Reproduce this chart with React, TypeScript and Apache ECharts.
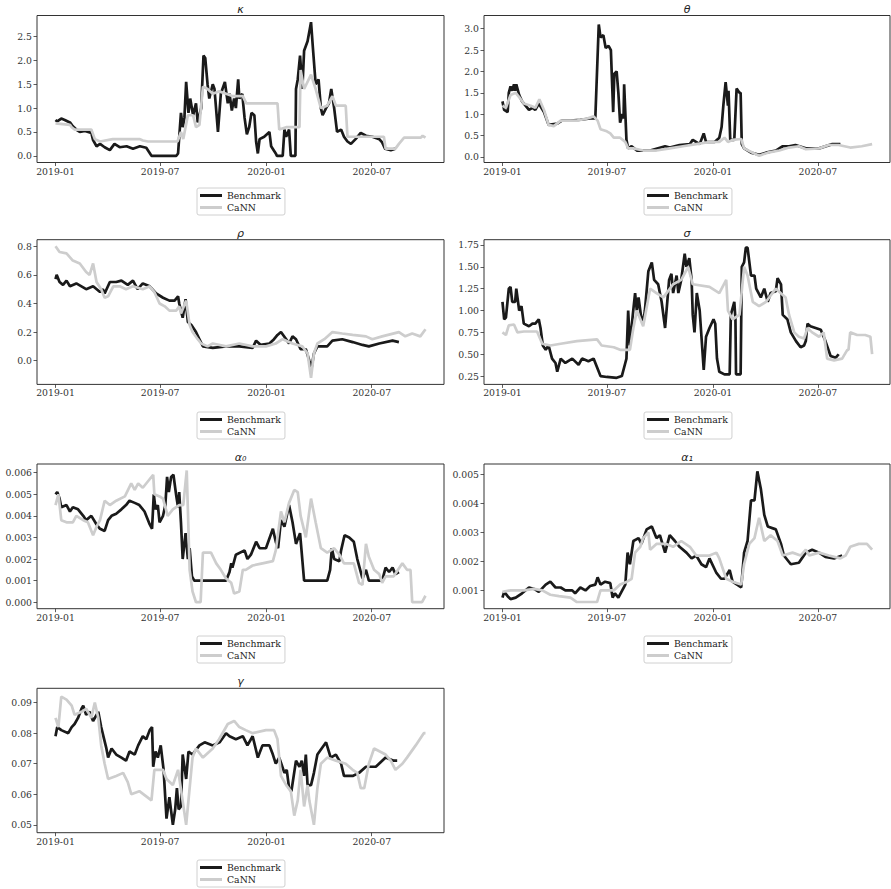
import React, { useEffect, useRef } from 'react';
import * as echarts from 'echarts';

// x values are days since 2019-01-01
const xTickDays = [0, 181, 365, 547];
const xTickLabels = ['2019-01', '2019-07', '2020-01', '2020-07'];

const kappaTicks = [0, 0.5, 1, 1.5, 2, 2.5];
const thetaTicks = [0, 0.5, 1, 1.5, 2, 2.5, 3];
const rhoTicks = [0, 0.2, 0.4, 0.6, 0.8];
const sigmaTicks = [0.25, 0.5, 0.75, 1, 1.25, 1.5, 1.75];
const alpha0Ticks = [0, 0.001, 0.002, 0.003, 0.004, 0.005, 0.006];
const alpha1Ticks = [0.001, 0.002, 0.003, 0.004, 0.005];
const gammaTicks = [0.05, 0.06, 0.07, 0.08, 0.09];

const seriesNames = ['Benchmark', 'CaNN'];

const kappaBenchmark = [
  [0, 0.75], [3, 0.72], [10, 0.78], [16, 0.75], [25, 0.7], [30, 0.62], [36, 0.55], [42, 0.5], [51, 0.52], [62, 0.48],
  [65, 0.33], [71, 0.2], [77, 0.25], [85, 0.18], [94, 0.12], [102, 0.25], [111, 0.18], [123, 0.2], [134, 0.15], [146, 0.2],
  [157, 0.17], [166, 0], [209, 0], [212, 0.05], [217, 0.9], [220, 0.6], [223, 0.8], [226, 1.55], [230, 0.9], [233, 1.2],
  [238, 0.85], [243, 1.1], [246, 0.7], [252, 1.0], [256, 2.1], [259, 2.05], [263, 1.5], [266, 1.2], [272, 1.5], [275, 1.4],
  [281, 0.5], [286, 1.3], [293, 1.55], [298, 1.1], [301, 1.3], [305, 0.95], [309, 1.2], [312, 1.0], [316, 1.6], [318, 1.2],
  [323, 1.3], [327, 0.8], [331, 0.45], [335, 0.6], [339, 0.9], [344, 0.85], [347, 0.3], [350, 0.05], [353, 0.35], [361, 0.4],
  [370, 0.5], [373, 0.2], [381, 0.05], [383, 0], [393, 0], [396, 0.55], [399, 0.4], [404, 0.55], [407, 0], [415, 0],
  [416, 1.4], [419, 1.6], [423, 2.1], [427, 1.4], [430, 2.2], [436, 2.4], [442, 2.8], [445, 2.3], [450, 1.5], [455, 1.6],
  [459, 1.0], [462, 0.85], [468, 1.0], [473, 1.1], [477, 1.4], [482, 1.0], [487, 0.5], [494, 0.55], [499, 0.4], [505, 0.3],
  [511, 0.25], [519, 0.35], [528, 0.48], [537, 0.42], [548, 0.4], [560, 0.35], [565, 0.28], [570, 0.15], [580, 0.12], [588, 0.15],
];
const kappaCaNN = [
  [0, 0.68], [25, 0.65], [28, 0.6], [33, 0.55], [62, 0.55], [68, 0.35], [77, 0.3], [99, 0.35], [146, 0.35], [151, 0.32],
  [160, 0.3], [211, 0.3], [217, 0.5], [221, 0.35], [229, 0.85], [238, 0.85], [243, 0.6], [249, 0.65], [255, 1.45], [263, 1.4],
  [272, 1.3], [283, 1.35], [295, 1.3], [307, 1.25], [324, 1.25], [330, 1.1], [384, 1.1], [387, 0.55], [399, 0.6], [422, 0.6],
  [424, 1.8], [430, 1.4], [442, 1.7], [450, 1.4], [459, 1.0], [470, 1.05], [479, 1.25], [485, 1.05], [502, 1.05], [505, 0.4],
  [568, 0.4], [571, 0.15], [588, 0.15], [594, 0.25], [603, 0.38], [632, 0.38], [635, 0.42], [640, 0.38],
];

const thetaBenchmark = [
  [0, 1.3], [3, 1.1], [9, 1.05], [11, 1.5], [14, 1.65], [17, 1.55], [20, 1.7], [22, 1.55], [24, 1.7], [29, 1.45],
  [34, 1.3], [40, 1.2], [46, 1.1], [52, 1.15], [57, 1.1], [63, 1.25], [72, 1.05], [80, 0.75], [95, 0.78], [103, 0.85],
  [118, 0.85], [135, 0.87], [152, 0.9], [161, 0.9], [167, 3.1], [170, 2.8], [175, 2.85], [179, 2.55], [184, 2.6], [188, 2.5],
  [192, 1.05], [194, 1.95], [198, 2.0], [201, 1.5], [204, 0.8], [208, 1.0], [210, 0.9], [211, 1.7], [215, 0.4], [218, 0.2],
  [224, 0.25], [233, 0.15], [256, 0.15], [282, 0.25], [290, 0.22], [307, 0.28], [325, 0.3], [330, 0.4], [342, 0.3], [349, 0.55],
  [353, 0.35], [368, 0.35], [376, 0.45], [380, 0.7], [383, 1.2], [387, 1.75], [391, 1.2], [392, 1.55], [395, 0.4], [402, 0.4],
  [406, 1.6], [411, 1.5], [413, 1.5], [415, 0.3], [419, 0.2], [431, 0.1], [445, 0.05], [457, 0.1], [474, 0.15], [486, 0.25],
  [497, 0.25], [508, 0.28], [526, 0.2], [549, 0.2], [572, 0.3], [586, 0.3],
];
const thetaCaNN = [
  [0, 1.2], [6, 1.15], [14, 1.45], [23, 1.5], [29, 1.4], [37, 1.25], [49, 1.2], [57, 1.15], [64, 1.35], [72, 1.1],
  [80, 0.75], [89, 0.72], [101, 0.85], [129, 0.85], [147, 0.9], [158, 0.95], [165, 0.85], [170, 0.65], [181, 0.6], [187, 0.55],
  [193, 0.45], [204, 0.45], [213, 0.35], [218, 0.2], [227, 0.2], [244, 0.15], [267, 0.15], [290, 0.2], [313, 0.25], [336, 0.3],
  [359, 0.35], [376, 0.35], [385, 0.45], [391, 0.35], [399, 0.4], [414, 0.42], [419, 0.2], [434, 0.1], [445, 0.03], [460, 0.1],
  [480, 0.15], [497, 0.22], [514, 0.25], [526, 0.18], [549, 0.2], [566, 0.28], [583, 0.28], [603, 0.22], [623, 0.25], [641, 0.3],
];

const rhoBenchmark = [
  [0, 0.57], [2, 0.6], [7, 0.55], [13, 0.53], [19, 0.56], [25, 0.52], [36, 0.54], [53, 0.5], [65, 0.52], [77, 0.48],
  [82, 0.5], [85, 0.47], [94, 0.55], [105, 0.55], [114, 0.56], [125, 0.53], [134, 0.56], [142, 0.5], [151, 0.54], [163, 0.52],
  [174, 0.47], [186, 0.44], [197, 0.42], [206, 0.42], [212, 0.45], [214, 0.4], [217, 0.35], [220, 0.3], [225, 0.43], [229, 0.27],
  [235, 0.25], [243, 0.2], [249, 0.15], [255, 0.1], [272, 0.09], [295, 0.1], [318, 0.1], [341, 0.09], [347, 0.14], [355, 0.11],
  [370, 0.12], [378, 0.15], [384, 0.18], [390, 0.2], [399, 0.15], [404, 0.12], [410, 0.17], [416, 0.15], [424, 0.08], [433, 0.08],
  [439, 0.0], [443, -0.05], [447, 0.05], [453, 0.1], [462, 0.1], [470, 0.1], [479, 0.14], [496, 0.15], [514, 0.13], [531, 0.11],
  [542, 0.1], [560, 0.12], [583, 0.14], [594, 0.13],
];
const rhoCaNN = [
  [0, 0.8], [7, 0.76], [19, 0.75], [30, 0.7], [42, 0.68], [53, 0.62], [59, 0.6], [65, 0.68], [71, 0.55], [79, 0.5],
  [85, 0.44], [91, 0.45], [100, 0.52], [111, 0.52], [122, 0.5], [134, 0.52], [151, 0.5], [163, 0.52], [171, 0.48], [180, 0.4],
  [189, 0.38], [197, 0.35], [209, 0.35], [214, 0.38], [217, 0.33], [226, 0.42], [232, 0.25], [237, 0.2], [246, 0.15], [252, 0.12],
  [263, 0.1], [272, 0.12], [295, 0.1], [318, 0.12], [341, 0.1], [364, 0.1], [381, 0.12], [393, 0.15], [410, 0.12], [427, 0.1],
  [436, 0.05], [442, -0.12], [447, 0.05], [453, 0.12], [465, 0.15], [479, 0.2], [496, 0.19], [514, 0.18], [537, 0.17], [548, 0.15],
  [565, 0.17], [594, 0.2], [605, 0.17], [617, 0.19], [631, 0.17], [640, 0.22],
];

const sigmaBenchmark = [
  [0, 1.1], [3, 0.9], [6, 0.92], [11, 1.25], [14, 1.27], [17, 1.1], [22, 1.1], [24, 1.25], [29, 1.0], [33, 1.05],
  [37, 0.85], [46, 0.82], [52, 0.85], [57, 0.85], [63, 0.9], [66, 0.8], [70, 0.6], [75, 0.55], [80, 0.6], [86, 0.45],
  [92, 0.4], [95, 0.3], [101, 0.45], [109, 0.4], [121, 0.45], [132, 0.38], [138, 0.45], [149, 0.42], [158, 0.45], [164, 0.35],
  [170, 0.25], [181, 0.24], [198, 0.23], [207, 0.25], [213, 0.4], [215, 0.45], [218, 1.0], [221, 0.6], [226, 0.95], [230, 1.2],
  [233, 1.0], [236, 1.15], [240, 0.95], [244, 0.85], [247, 1.0], [253, 1.45], [259, 1.55], [263, 1.35], [270, 1.3], [276, 1.1],
  [282, 0.8], [289, 1.35], [293, 1.42], [296, 1.2], [302, 1.4], [305, 1.2], [310, 1.35], [316, 1.65], [319, 1.5], [324, 1.6],
  [328, 1.35], [330, 0.95], [333, 0.75], [337, 1.2], [342, 1.0], [349, 0.32], [353, 0.7], [359, 0.8], [366, 0.9], [369, 0.85],
  [372, 0.45], [376, 0.3], [385, 0.27], [394, 0.27], [396, 0.95], [402, 1.1], [404, 0.9], [405, 0.27], [413, 0.27], [415, 1.5],
  [419, 1.55], [422, 1.72], [425, 1.72], [431, 1.4], [437, 1.4], [440, 1.25], [448, 1.15], [454, 1.25], [460, 1.1], [465, 1.2],
  [474, 1.22], [477, 1.37], [483, 1.3], [486, 0.95], [494, 0.9], [500, 0.75], [509, 0.65], [517, 0.58], [523, 0.6], [526, 0.65],
  [529, 0.85], [534, 0.82], [543, 0.8], [552, 0.78], [557, 0.7], [560, 0.65], [569, 0.48], [578, 0.46], [583, 0.5],
];
const sigmaCaNN = [
  [0, 0.75], [6, 0.72], [11, 0.83], [20, 0.84], [26, 0.75], [37, 0.76], [60, 0.76], [69, 0.62], [83, 0.6], [101, 0.62],
  [129, 0.65], [164, 0.67], [172, 0.6], [193, 0.58], [204, 0.55], [221, 0.55], [227, 0.8], [233, 1.0], [244, 0.82], [256, 1.25],
  [267, 1.2], [279, 1.15], [296, 1.3], [310, 1.35], [322, 1.5], [330, 1.3], [359, 1.27], [376, 1.2], [388, 1.35], [391, 1.0],
  [399, 0.9], [411, 0.95], [419, 1.5], [425, 1.4], [434, 1.1], [445, 1.05], [457, 1.1], [474, 1.25], [491, 1.15], [497, 0.95],
  [506, 0.75], [514, 0.7], [523, 0.68], [529, 0.8], [537, 0.75], [549, 0.7], [557, 0.75], [563, 0.45], [575, 0.43], [589, 0.45],
  [598, 0.55], [600, 0.55], [603, 0.75], [615, 0.72], [629, 0.72], [638, 0.7], [641, 0.5],
];

const alpha0Benchmark = [
  [0, 0.005], [3, 0.0051], [7, 0.0048], [10, 0.0044], [19, 0.0045], [25, 0.0042], [30, 0.0044], [39, 0.0043], [48, 0.004], [53, 0.0038],
  [62, 0.004], [71, 0.0036], [77, 0.0034], [85, 0.0033], [91, 0.0038], [97, 0.004], [105, 0.0041], [114, 0.0043], [122, 0.0045], [128, 0.0047],
  [137, 0.0046], [145, 0.0045], [154, 0.0042], [163, 0.0036], [167, 0.0034], [170, 0.005], [173, 0.0043], [177, 0.0045], [180, 0.0037], [186, 0.004],
  [190, 0.0045], [193, 0.0058], [196, 0.0051], [200, 0.0058], [204, 0.0059], [209, 0.0049], [212, 0.0044], [214, 0.0051], [217, 0.0037], [220, 0.002],
  [225, 0.0032], [229, 0.002], [232, 0.0025], [236, 0.0012], [240, 0.001], [295, 0.001], [301, 0.0014], [304, 0.0018], [306, 0.0016], [312, 0.0022],
  [327, 0.0024], [332, 0.002], [338, 0.0022], [347, 0.0028], [353, 0.0025], [364, 0.0025], [376, 0.0034], [381, 0.0028], [385, 0.0025], [390, 0.0038],
  [396, 0.0035], [404, 0.0045], [410, 0.0037], [416, 0.0027], [423, 0.0032], [430, 0.001], [470, 0.001], [475, 0.0015], [478, 0.0025], [482, 0.002],
  [491, 0.0019], [494, 0.0024], [500, 0.0031], [508, 0.003], [516, 0.0028], [522, 0.002], [531, 0.0011], [537, 0.0015], [542, 0.001], [565, 0.001],
  [571, 0.0016], [577, 0.0014], [583, 0.0016], [588, 0.0013], [594, 0.0014],
];
const alpha0CaNN = [
  [0, 0.0045], [5, 0.005], [10, 0.0038], [19, 0.0037], [30, 0.0037], [36, 0.004], [48, 0.0038], [56, 0.0037], [65, 0.0031], [71, 0.0035],
  [77, 0.0038], [85, 0.0047], [94, 0.0045], [105, 0.0047], [120, 0.0049], [131, 0.0055], [137, 0.0052], [143, 0.0055], [151, 0.0053], [160, 0.0056],
  [169, 0.0059], [171, 0.005], [180, 0.0049], [186, 0.0048], [194, 0.004], [203, 0.0043], [214, 0.0045], [221, 0.0045], [227, 0.0061], [232, 0.0015],
  [237, 0.0005], [243, 0.0], [251, 0.0], [255, 0.0023], [269, 0.0023], [278, 0.0018], [286, 0.0015], [295, 0.0011], [304, 0.0009], [309, 0.0004],
  [318, 0.0005], [324, 0.0015], [329, 0.0015], [341, 0.0017], [358, 0.0018], [376, 0.0019], [381, 0.0024], [390, 0.0042], [396, 0.0037], [404, 0.0046],
  [413, 0.0052], [419, 0.0051], [424, 0.004], [433, 0.003], [442, 0.0048], [450, 0.0037], [459, 0.0025], [470, 0.0023], [482, 0.0025], [491, 0.0022],
  [499, 0.0018], [516, 0.0018], [525, 0.0009], [531, 0.0008], [537, 0.0027], [542, 0.0021], [551, 0.0015], [560, 0.0013], [565, 0.0009], [571, 0.0012],
  [585, 0.0012], [600, 0.0018], [608, 0.0015], [614, 0.0015], [617, 0.0], [634, 0.0], [640, 0.0003],
];

const alpha1Benchmark = [
  [0, 0.00075], [3, 0.00095], [9, 0.0008], [14, 0.0007], [23, 0.00075], [34, 0.0009], [46, 0.0011], [55, 0.00105], [63, 0.00095], [75, 0.0012],
  [83, 0.0013], [92, 0.0011], [101, 0.0011], [109, 0.001], [121, 0.001], [126, 0.0009], [135, 0.0011], [144, 0.001], [152, 0.00115], [161, 0.0012],
  [165, 0.00145], [170, 0.0012], [178, 0.0013], [187, 0.00125], [191, 0.00075], [195, 0.0009], [201, 0.00075], [213, 0.0012], [217, 0.0023], [221, 0.0019],
  [227, 0.0027], [236, 0.0028], [241, 0.0026], [250, 0.0031], [259, 0.0032], [267, 0.0028], [273, 0.0029], [282, 0.0023], [290, 0.0029], [299, 0.0027],
  [307, 0.0025], [319, 0.0023], [328, 0.0021], [336, 0.0022], [345, 0.0019], [353, 0.0018], [359, 0.0021], [371, 0.0016], [379, 0.0014], [385, 0.0014],
  [394, 0.0017], [399, 0.0013], [414, 0.0011], [419, 0.0023], [425, 0.0027], [431, 0.0041], [437, 0.0041], [442, 0.0051], [448, 0.0045], [454, 0.0036],
  [460, 0.0032], [474, 0.0031], [483, 0.0026], [488, 0.0022], [500, 0.0019], [514, 0.00195], [526, 0.0023], [537, 0.0024], [549, 0.0023], [560, 0.00215],
  [575, 0.0021], [589, 0.0022],
];
const alpha1CaNN = [
  [0, 0.00095], [14, 0.001], [37, 0.001], [55, 0.00105], [69, 0.001], [83, 0.00085], [98, 0.0008], [118, 0.00075], [129, 0.0006], [164, 0.0006],
  [170, 0.001], [193, 0.001], [204, 0.0012], [216, 0.0013], [224, 0.0014], [230, 0.0023], [239, 0.0025], [244, 0.0028], [253, 0.003], [256, 0.0024],
  [267, 0.0026], [284, 0.0026], [296, 0.0025], [310, 0.0027], [325, 0.0025], [336, 0.0022], [359, 0.0022], [371, 0.0023], [376, 0.0021], [388, 0.0014],
  [399, 0.0013], [414, 0.0012], [419, 0.0019], [428, 0.0026], [437, 0.0028], [445, 0.0035], [454, 0.0027], [465, 0.0029], [477, 0.0027], [486, 0.0022],
  [503, 0.0023], [517, 0.0022], [526, 0.0024], [532, 0.0022], [549, 0.0023], [566, 0.0022], [586, 0.0021], [595, 0.0022], [603, 0.0025], [618, 0.0026],
  [632, 0.0026], [641, 0.0024],
];

const gammaBenchmark = [
  [0, 0.079], [3, 0.082], [10, 0.081], [22, 0.08], [28, 0.082], [33, 0.083], [39, 0.085], [45, 0.088], [48, 0.089], [53, 0.086],
  [59, 0.087], [65, 0.084], [74, 0.087], [79, 0.082], [88, 0.075], [91, 0.072], [97, 0.075], [105, 0.073], [114, 0.072], [122, 0.071],
  [128, 0.074], [137, 0.073], [143, 0.076], [151, 0.079], [157, 0.078], [163, 0.081], [167, 0.082], [169, 0.069], [173, 0.074], [177, 0.072],
  [182, 0.076], [187, 0.068], [192, 0.052], [197, 0.059], [203, 0.05], [207, 0.055], [210, 0.062], [213, 0.055], [217, 0.056], [220, 0.073],
  [226, 0.065], [230, 0.074], [237, 0.073], [249, 0.076], [258, 0.077], [272, 0.076], [284, 0.077], [295, 0.08], [301, 0.079], [312, 0.078],
  [324, 0.079], [332, 0.076], [341, 0.079], [350, 0.072], [358, 0.076], [370, 0.076], [376, 0.073], [381, 0.07], [387, 0.072], [396, 0.067],
  [400, 0.068], [404, 0.062], [408, 0.061], [416, 0.071], [422, 0.069], [426, 0.071], [430, 0.066], [433, 0.073], [436, 0.063], [442, 0.063],
  [447, 0.067], [453, 0.073], [468, 0.077], [476, 0.072], [485, 0.073], [494, 0.07], [499, 0.066], [514, 0.066], [525, 0.067], [537, 0.069],
  [554, 0.069], [571, 0.072], [585, 0.071], [591, 0.071],
];
const gammaCaNN = [
  [0, 0.085], [5, 0.082], [10, 0.092], [19, 0.091], [28, 0.089], [33, 0.086], [45, 0.087], [53, 0.088], [62, 0.085], [68, 0.09],
  [74, 0.085], [79, 0.076], [85, 0.07], [91, 0.065], [105, 0.066], [117, 0.067], [125, 0.064], [131, 0.06], [145, 0.061], [166, 0.058],
  [171, 0.068], [186, 0.068], [192, 0.065], [203, 0.063], [212, 0.068], [226, 0.05], [237, 0.072], [243, 0.075], [255, 0.072], [272, 0.075],
  [283, 0.078], [298, 0.083], [309, 0.084], [318, 0.082], [329, 0.081], [341, 0.08], [364, 0.081], [378, 0.081], [384, 0.078], [390, 0.066],
  [399, 0.063], [407, 0.061], [413, 0.053], [419, 0.058], [424, 0.068], [430, 0.056], [436, 0.063], [439, 0.058], [447, 0.05], [453, 0.062],
  [459, 0.07], [470, 0.072], [485, 0.071], [502, 0.07], [514, 0.068], [522, 0.067], [528, 0.062], [534, 0.062], [542, 0.07], [551, 0.075],
  [571, 0.073], [580, 0.071], [588, 0.068], [600, 0.07], [608, 0.072], [623, 0.076], [637, 0.08], [640, 0.08],
];

const panels = [
  { title: 'κ', bench: kappaBenchmark, cann: kappaCaNN, yMin: -0.14, yMax: 2.94, ticks: kappaTicks, dec: 1 },
  { title: 'θ', bench: thetaBenchmark, cann: thetaCaNN, yMin: -0.13, yMax: 3.31, ticks: thetaTicks, dec: 1 },
  { title: 'ρ', bench: rhoBenchmark, cann: rhoCaNN, yMin: -0.166, yMax: 0.846, ticks: rhoTicks, dec: 1 },
  { title: 'σ', bench: sigmaBenchmark, cann: sigmaCaNN, yMin: 0.155, yMax: 1.81, ticks: sigmaTicks, dec: 2 },
  { title: 'α₀', bench: alpha0Benchmark, cann: alpha0CaNN, yMin: -0.0003, yMax: 0.0064, ticks: alpha0Ticks, dec: 3 },
  { title: 'α₁', bench: alpha1Benchmark, cann: alpha1CaNN, yMin: 0.00037, yMax: 0.00535, ticks: alpha1Ticks, dec: 3 },
  { title: 'γ', bench: gammaBenchmark, cann: gammaCaNN, yMin: 0.0474, yMax: 0.0947, ticks: gammaTicks, dec: 2 },
];

const COL_LEFT = [37, 484];
const COL_WIDTH = [407, 406];
const ROWS = [
  { top: 15.5, h: 147 },
  { top: 239.7, h: 144.7 },
  { top: 464, h: 144.7 },
  { top: 688.3, h: 144.4 },
];
const LEGEND_LEFT = [197, 644];
const LEGEND_TOP = [188, 412, 636, 860];

const BENCH_COLOR = '#1a1a1a';
const CANN_COLOR = '#cdcdcd';
const TEXT_COLOR = '#333';
const SERIF = 'DejaVu Serif';

export default function App() {
  const ref = useRef<HTMLDivElement>(null);
  useEffect(() => {
    const chart = echarts.init(ref.current!, null, { renderer: 'svg' });
    const grid: any[] = [];
    const xAxis: any[] = [];
    const yAxis: any[] = [];
    const series: any[] = [];
    const legend: any[] = [];
    const graphic: any[] = [];
    panels.forEach((p, i) => {
      const c = i % 2;
      const r = Math.floor(i / 2);
      grid.push({
        left: COL_LEFT[c], top: ROWS[r].top, width: COL_WIDTH[c], height: ROWS[r].h,
        show: true, borderColor: '#333', borderWidth: 1, backgroundColor: 'transparent',
      });
      xAxis.push({
        type: 'value', gridIndex: i, min: -32, max: 672, position: 'bottom',
        splitLine: { show: false }, axisLine: { show: false, onZero: false },
        axisTick: { show: true, customValues: xTickDays, length: 3.5, lineStyle: { color: '#333', width: 0.8 } },
        axisLabel: {
          customValues: xTickDays,
          formatter: (v: number) => xTickLabels[xTickDays.indexOf(v)] ?? '',
          fontFamily: SERIF, fontSize: 9.3, color: TEXT_COLOR, margin: 4,
        },
      });
      yAxis.push({
        type: 'value', gridIndex: i, min: p.yMin, max: p.yMax, position: 'left',
        splitLine: { show: false }, axisLine: { show: false, onZero: false },
        axisTick: { show: true, customValues: p.ticks, length: 3.5, lineStyle: { color: '#333', width: 0.8 } },
        axisLabel: {
          customValues: p.ticks,
          formatter: (v: number) => v.toFixed(p.dec),
          fontFamily: SERIF, fontSize: 9.3, color: TEXT_COLOR, margin: 5,
        },
      });
      series.push({
        name: seriesNames[0], type: 'line', xAxisIndex: i, yAxisIndex: i,
        data: p.bench, symbol: 'none', showSymbol: false, z: 2,
        lineStyle: { color: BENCH_COLOR, width: 2.7 }, itemStyle: { color: BENCH_COLOR },
      });
      series.push({
        name: seriesNames[1], type: 'line', xAxisIndex: i, yAxisIndex: i,
        data: p.cann, symbol: 'none', showSymbol: false, z: 3,
        lineStyle: { color: CANN_COLOR, width: 2.7 }, itemStyle: { color: CANN_COLOR },
      });
      legend.push({
        data: seriesNames, orient: 'vertical', left: LEGEND_LEFT[c], top: LEGEND_TOP[r],
        icon: 'rect', itemWidth: 22, itemHeight: 3, itemGap: 3,
        selectedMode: false,
        textStyle: { fontFamily: SERIF, fontSize: 9.3, color: '#222' },
        borderColor: '#d0d0d0', borderWidth: 1, borderRadius: 2,
        padding: [3, 4, 3, 3], backgroundColor: '#fff',
      });
      graphic.push({
        type: 'text',
        x: COL_LEFT[c] + COL_WIDTH[c] / 2,
        y: ROWS[r].top - 1,
        style: {
          text: p.title, fill: '#222',
          font: 'italic 11px "DejaVu Sans"',
          textAlign: 'center', textVerticalAlign: 'bottom',
        },
      });
    });
    chart.setOption({
      animation: false,
      backgroundColor: '#fff',
      grid, xAxis, yAxis, series, legend, graphic,
    });
    return () => chart.dispose();
  }, []);
  return <div ref={ref} style={{ position: 'absolute', left: 0, top: 0, width: 891, height: 889 }} />;
}
